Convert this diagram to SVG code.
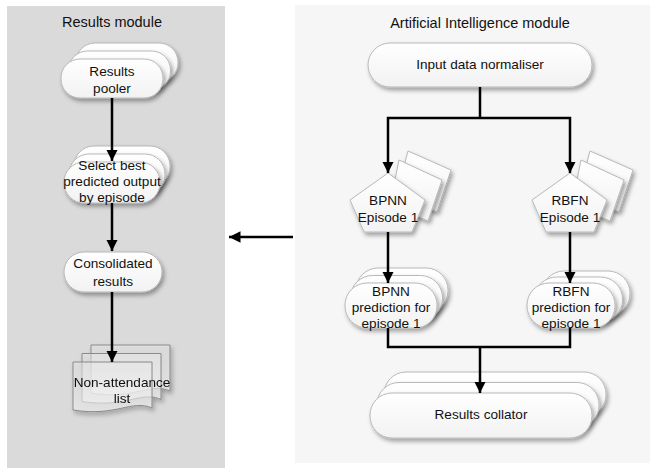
<svg xmlns="http://www.w3.org/2000/svg" width="655" height="473" viewBox="0 0 655 473">
<defs>
<filter id="sh" x="-20%" y="-20%" width="150%" height="160%"><feDropShadow dx="2" dy="3" stdDeviation="2" flood-color="#000" flood-opacity="0.35"/></filter>
<linearGradient id="g" x1="0" y1="0" x2="0" y2="1"><stop offset="0" stop-color="#ffffff"/><stop offset="1" stop-color="#f2f2f2"/></linearGradient>
<linearGradient id="dg" x1="0" y1="0" x2="0" y2="1"><stop offset="0" stop-color="#e8e8e8" stop-opacity="0.5"/><stop offset="1" stop-color="#f4f4f4" stop-opacity="0.6"/></linearGradient>
<marker id="ah" viewBox="0 0 10 10" refX="10" refY="5" markerWidth="4.6" markerHeight="4.6" orient="auto" markerUnits="strokeWidth"><path d="M0,0 L10,5 L0,10 z" fill="#000"/></marker>
</defs>
<style>
.t{font-family:"Liberation Sans",Arial,sans-serif;font-size:13.6px;fill:#111;text-anchor:middle}
.h{font-family:"Liberation Sans",Arial,sans-serif;font-size:14.5px;fill:#111;text-anchor:middle}
.n{fill:url(#g);stroke:#b8b8b8;stroke-width:1;filter:url(#sh)}
.d{fill:url(#dg);stroke:#8a8a8a;stroke-width:1}
.c{fill:none;stroke:#000;stroke-width:2.5}
</style>
<rect width="655" height="473" fill="#fff"/>
<rect id="results-panel" x="7" y="6" width="218" height="462" fill="#dadada"/>
<rect id="ai-panel" x="295" y="5" width="355" height="458" fill="#f6f6f6"/>
<text class="h" x="112" y="27">Results module</text>
<text class="h" x="480" y="28">Artificial Intelligence module</text>

<g id="results-pooler">
<rect class="n" x="76" y="43" width="102" height="39" rx="19"/>
<rect class="n" x="68.5" y="51" width="102" height="39" rx="19"/>
<rect class="n" x="61" y="59" width="102" height="39" rx="19"/>
<text class="t" x="112" y="76">Results</text>
<text class="t" x="112" y="93">pooler</text>
</g>
<g id="select-best">
<rect class="n" x="74" y="146" width="96" height="41" rx="20"/>
<rect class="n" x="69" y="154" width="96" height="41" rx="20"/>
<rect class="n" x="64" y="162" width="96" height="41" rx="20"/>
<text class="t" x="112" y="170">Select best</text>
<text class="t" x="112" y="186">predicted output</text>
<text class="t" x="112" y="202">by episode</text>
</g>
<g id="consolidated">
<rect class="n" x="64" y="252" width="98" height="40" rx="20"/>
<text class="t" x="113" y="268">Consolidated</text>
<text class="t" x="113" y="286">results</text>
</g>
<g id="non-attendance" filter="url(#sh)">
<path class="d" d="M91,345 H170 V391 C150,382 135,400 91,393 Z"/>
<path class="d" d="M82,353.5 H161 V399.5 C141,390.5 126,408.5 82,401.5 Z"/>
<path class="d" d="M73,362 H152 V408 C132,399 117,417 73,410 Z"/>
<text class="t" x="122" y="387">Non-attendance</text>
<text class="t" x="122" y="403">list</text>
</g>

<g id="normaliser">
<rect class="n" x="368" y="43" width="224" height="44" rx="22"/>
<text class="t" x="480" y="69">Input data normaliser</text>
</g>
<g id="bpnn-episode">
<polygon class="n" points="408,151 451,170 437,212 396,196"/>
<polygon class="n" points="399,160 442,180 428,221 390,205"/>
<polygon class="n" points="388,173 425,200 412,232 364,232 350,200"/>
<text class="t" x="388" y="205">BPNN</text>
<text class="t" x="388" y="222">Episode 1</text>
</g>
<g id="rbfn-episode">
<polygon class="n" points="590,151 633,170 619,212 578,196"/>
<polygon class="n" points="581,160 624,180 610,221 572,205"/>
<polygon class="n" points="570,173 607,200 594,232 546,232 532,200"/>
<text class="t" x="570" y="205">RBFN</text>
<text class="t" x="570" y="222">Episode 1</text>
</g>
<g id="bpnn-prediction">
<rect class="n" x="356" y="268" width="92" height="45" rx="22"/>
<rect class="n" x="350.5" y="275.5" width="92" height="45" rx="22"/>
<rect class="n" x="345" y="283" width="92" height="45" rx="22"/>
<text class="t" x="391" y="296">BPNN</text>
<text class="t" x="391" y="312">prediction for</text>
<text class="t" x="391" y="328">episode 1</text>
</g>
<g id="rbfn-prediction">
<rect class="n" x="542" y="271" width="88" height="45" rx="22"/>
<rect class="n" x="534.5" y="277" width="88" height="45" rx="22"/>
<rect class="n" x="527" y="283" width="88" height="45" rx="22"/>
<text class="t" x="571" y="296">RBFN</text>
<text class="t" x="571" y="312">prediction for</text>
<text class="t" x="571" y="328">episode 1</text>
</g>
<g id="collator">
<rect class="n" x="384" y="372" width="222" height="45" rx="22"/>
<rect class="n" x="377" y="382.5" width="222" height="45" rx="22"/>
<rect class="n" x="370" y="393" width="222" height="45" rx="22"/>
<text class="t" x="481" y="419">Results collator</text>
</g>

<g id="connectors">
<path class="c" d="M112,98 V161" marker-end="url(#ah)"/>
<path class="c" d="M112,203 V251" marker-end="url(#ah)"/>
<path class="c" d="M112,292 V362" marker-end="url(#ah)"/>
<path class="c" d="M480,87 V118"/>
<path class="c" d="M480,118 H388 V173" marker-end="url(#ah)"/>
<path class="c" d="M480,118 H570 V173" marker-end="url(#ah)"/>
<path class="c" d="M388,232 V283" marker-end="url(#ah)"/>
<path class="c" d="M570,232 V283" marker-end="url(#ah)"/>
<path class="c" d="M388,328 V347 H570 V328"/>
<path class="c" d="M480,347 V393" marker-end="url(#ah)"/>
<path class="c" d="M293,237 H229" marker-end="url(#ah)"/>
</g>
</svg>
